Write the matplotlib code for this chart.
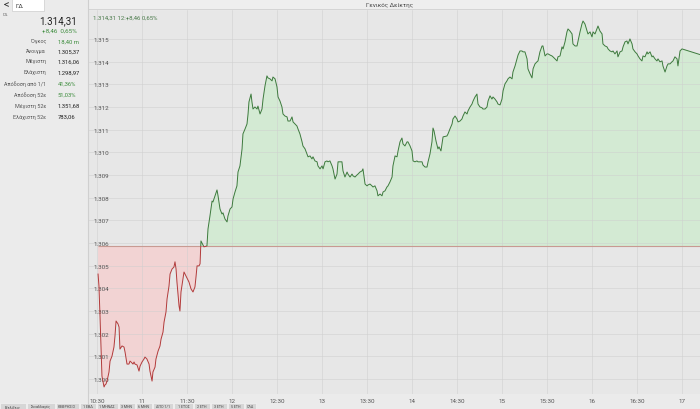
import matplotlib
matplotlib.use("Agg")
import matplotlib.pyplot as plt
import numpy as np
from matplotlib.patches import Rectangle
from matplotlib.ticker import FuncFormatter

plt.rcParams["font.family"] = ["Roboto", "DejaVu Sans"]

# minutes after 10:30 and index value
minutes = [
    0.7, 1.3, 2.0, 3.3, 4.7, 5.3, 6.0, 6.7, 8.0, 8.7, 10.0, 11.3, 12.0, 12.7, 14.0, 14.7,
    15.3, 16.7, 18.0, 18.7, 20.0, 21.3, 22.0, 22.7, 24.0, 24.7, 25.3, 26.7, 28.0, 28.7,
    30.0, 31.3, 32.0, 33.3, 34.7, 35.3, 36.7, 37.3, 38.7, 39.3, 40.7, 42.0, 42.7, 44.0,
    44.7, 46.0, 46.7, 48.0, 48.7, 50.0, 51.3, 52.0, 52.7, 53.3, 54.7, 55.3, 56.0, 57.3,
    58.0, 59.3, 61.3, 62.7, 64.0, 65.3, 66.0, 66.7, 68.0, 68.7, 69.3, 71.3, 73.3, 74.0,
    75.3, 76.7, 77.3, 78.7, 80.0, 80.7, 82.0, 83.3, 84.0, 85.3, 86.7, 87.3, 88.7, 90.0,
    90.7, 92.0, 93.3, 94.0, 95.3, 96.7, 97.3, 98.7, 100.0, 100.7, 101.3, 102.7, 103.3,
    104.0, 105.3, 106.7, 107.3, 108.7, 110.0, 110.7, 112.0, 113.3, 114.0, 115.3, 116.7,
    117.3, 118.7, 120.0, 120.7, 122.0, 123.3, 124.0, 125.3, 126.7, 127.3, 128.7, 130.0,
    130.7, 132.0, 133.3, 134.0, 135.3, 136.7, 137.3, 138.7, 140.0, 140.7, 142.0, 143.3,
    144.0, 145.3, 146.7, 147.3, 148.7, 150.0, 150.7, 152.0, 153.3, 154.0, 155.3, 156.7,
    157.3, 158.7, 160.0, 160.7, 162.0, 163.3, 164.0, 165.3, 166.7, 167.3, 168.7, 170.0,
    170.7, 172.0, 173.3, 174.0, 175.3, 176.7, 177.3, 178.7, 180.0, 180.7, 182.0, 183.3,
    184.0, 185.3, 186.7, 187.3, 188.7, 190.0, 190.7, 192.0, 193.3, 194.0, 195.3, 196.7,
    197.3, 198.7, 200.0, 200.7, 202.0, 203.3, 204.0, 205.3, 206.7, 207.3, 208.7, 210.0,
    210.7, 212.0, 213.3, 214.0, 215.3, 216.7, 217.3, 218.7, 220.0, 220.7, 222.0, 223.3,
    224.0, 224.7, 226.0, 227.3, 228.0, 229.3, 230.0, 230.7, 233.3, 234.0, 235.3, 236.7,
    237.3, 238.7, 240.0, 240.7, 242.0, 243.3, 244.0, 245.3, 246.7, 247.3, 248.7, 250.0,
    250.7, 252.0, 253.3, 254.0, 255.3, 256.7, 257.3, 258.7, 260.0, 260.7, 262.0, 263.3,
    264.0, 265.3, 266.7, 267.3, 268.7, 270.0, 270.7, 272.0, 273.3, 274.0, 275.3, 276.7,
    277.3, 278.7, 280.0, 280.7, 282.0, 283.3, 284.0, 285.3, 286.7, 287.3, 288.7, 290.0,
    290.7, 292.0, 293.3, 294.0, 295.3, 296.7, 297.3, 298.7, 300.0, 300.7, 302.0, 303.3,
    304.0, 305.3, 306.7, 307.3, 308.7, 310.0, 310.7, 312.0, 313.3, 314.0, 315.3, 316.7,
    317.3, 318.7, 320.0, 320.7, 322.0, 323.3, 324.0, 325.3, 326.7, 327.3, 328.7, 330.0,
    330.7, 332.0, 333.3, 334.0, 335.3, 336.7, 337.3, 338.7, 340.0, 340.7, 342.0, 343.3,
    344.0, 345.3, 346.7, 347.3, 348.7, 350.0, 350.7, 352.0, 353.3, 354.0, 355.3, 356.7,
    357.3, 358.7, 360.0, 360.7, 362.0, 363.3, 364.0, 365.3, 366.7, 367.3, 368.7, 370.0,
    370.7, 372.0, 373.3, 374.0, 375.3, 376.7, 377.3, 378.7, 380.0, 380.7, 382.0, 383.3,
    384.0, 385.3, 386.7, 387.3, 388.7, 390.0, 402.0,
]
values = [
    1304.63, 1304.10, 1302.78, 1300.13, 1299.65, 1299.74, 1299.78, 1299.91, 1300.31, 1300.79,
    1301.01, 1301.41, 1301.90, 1302.56, 1302.43, 1302.29, 1301.32, 1301.46, 1301.41, 1301.19,
    1300.66, 1300.66, 1300.79, 1300.75, 1300.66, 1300.75, 1300.66, 1300.62, 1300.35, 1300.57,
    1300.75, 1300.88, 1300.97, 1300.88, 1300.66, 1300.35, 1299.91, 1300.31, 1300.53, 1300.88,
    1301.23, 1301.46, 1301.76, 1302.07, 1302.51, 1302.96, 1303.53, 1304.10, 1304.63, 1304.85,
    1304.94, 1305.17, 1304.85, 1304.28, 1303.22, 1303.00, 1303.84, 1304.41, 1304.72, 1304.55,
    1304.28, 1303.97, 1303.84, 1304.06, 1304.50, 1304.99, 1304.99, 1305.08, 1306.09, 1305.83,
    1305.87, 1306.62, 1307.19, 1307.85, 1307.81, 1308.08, 1308.34, 1308.08, 1307.50, 1307.28,
    1307.33, 1307.06, 1306.93, 1307.19, 1307.50, 1307.59, 1307.94, 1308.25, 1308.52, 1309.13,
    1309.40, 1310.15, 1310.81, 1311.03, 1311.25, 1311.69, 1312.22, 1312.57, 1312.22, 1311.91,
    1312.00, 1311.91, 1312.04, 1311.69, 1311.91, 1312.35, 1312.93, 1313.37, 1313.28, 1313.24,
    1313.15, 1313.32, 1313.24, 1312.88, 1312.44, 1312.26, 1312.00, 1311.69, 1311.60, 1311.56,
    1311.38, 1311.38, 1311.56, 1311.34, 1311.25, 1311.16, 1311.03, 1310.81, 1310.46, 1310.28,
    1310.15, 1309.93, 1309.80, 1309.84, 1309.71, 1309.80, 1309.62, 1309.58, 1309.40, 1309.27,
    1309.40, 1309.27, 1309.58, 1309.62, 1309.58, 1309.62, 1309.40, 1309.27, 1308.82, 1309.04,
    1309.58, 1309.58, 1309.58, 1309.18, 1308.91, 1309.13, 1309.04, 1308.91, 1309.04, 1308.96,
    1308.91, 1309.00, 1309.04, 1309.13, 1309.18, 1309.27, 1308.60, 1308.52, 1308.56, 1308.60,
    1308.52, 1308.47, 1308.52, 1308.30, 1308.08, 1308.16, 1308.08, 1308.25, 1308.30, 1308.47,
    1308.52, 1308.69, 1308.91, 1309.40, 1309.84, 1309.80, 1310.06, 1310.46, 1310.63, 1310.37,
    1310.28, 1310.46, 1310.46, 1310.28, 1310.06, 1309.62, 1309.58, 1309.62, 1309.58, 1309.58,
    1309.58, 1309.44, 1309.35, 1309.35, 1309.58, 1309.93, 1310.46, 1311.07, 1310.94, 1310.50,
    1310.15, 1310.24, 1310.06, 1310.37, 1310.68, 1310.72, 1310.81, 1311.03, 1311.25, 1311.47,
    1311.60, 1311.47, 1311.34, 1311.38, 1311.47, 1311.60, 1311.78, 1311.69, 1311.82, 1312.00,
    1312.13, 1312.26, 1312.44, 1312.57, 1312.13, 1312.00, 1311.96, 1311.91, 1311.91, 1312.00,
    1312.26, 1312.49, 1312.35, 1312.44, 1312.35, 1312.22, 1312.13, 1312.09, 1312.35, 1312.71,
    1313.02, 1313.15, 1313.24, 1313.32, 1313.24, 1313.54, 1313.81, 1314.12, 1314.29, 1314.47,
    1314.47, 1314.43, 1314.43, 1314.12, 1313.68, 1313.46, 1313.28, 1313.68, 1313.90, 1313.99,
    1314.03, 1314.43, 1314.69, 1314.69, 1314.25, 1314.34, 1314.34, 1314.29, 1314.25, 1314.21,
    1314.12, 1314.03, 1314.21, 1314.25, 1314.65, 1314.56, 1314.87, 1315.31, 1315.44, 1315.35,
    1315.22, 1314.78, 1314.69, 1314.69, 1314.91, 1315.31, 1315.66, 1315.79, 1315.66, 1315.35,
    1315.22, 1315.31, 1315.09, 1315.31, 1315.22, 1315.44, 1315.57, 1315.35, 1315.22, 1314.78,
    1314.69, 1314.65, 1314.56, 1314.47, 1314.43, 1314.47, 1314.34, 1314.47, 1314.21, 1314.43,
    1314.47, 1314.65, 1314.87, 1314.91, 1314.78, 1315.00, 1314.78, 1314.56, 1314.43, 1314.34,
    1314.25, 1314.12, 1314.03, 1314.25, 1314.21, 1314.43, 1314.34, 1314.43, 1314.21, 1314.25,
    1314.12, 1314.03, 1314.12, 1313.99, 1314.03, 1313.81, 1313.54, 1313.81, 1313.90, 1313.90,
    1313.99, 1314.03, 1314.21, 1314.12, 1313.81, 1314.47, 1314.56, 1314.31,
]
prev_close = 1305.85

tick_minutes = [0, 30, 60, 90, 120, 150, 180, 210, 240, 270, 300, 330, 360, 390]
tick_labels = ["10:30", "11", "11:30", "12", "12:30", "13", "13:30", "14",
               "14:30", "15", "15:30", "16", "16:30", "17"]
y_ticks = list(range(1300, 1316))

info_labels = ["Όγκος", "Άνοιγμα", "Μέγιστη", "Ελάχιστη", "Απόδοση από 1/1",
               "Απόδοση 52ε", "Μέγιστη 52ε", "Ελάχιστη 52ε"]
info_values = ["18,40 m", "1.305,37", "1.316,06", "1.298,97", "41,36%",
               "51,03%", "1.351,68", "783,06"]
info_green = [True, False, False, False, True, True, False, False]

tabs = ["Εξελίξεις", "Συναλλαγές", "ΗΜΕΡΗΣΙΟ", "1 ΕΒΔ", "1 ΜΗΝΑΣ", "3 ΜΗΝ", "6 ΜΗΝ",
        "ΑΠΟ 1/1", "1 ΕΤΟΣ", "2 ΕΤΗ", "3 ΕΤΗ", "5 ΕΤΗ", "ΟΛΑ"]

green_line = "#3d7a3d"
red_line = "#b23a3a"
grey_txt = "#555555"

fig = plt.figure(figsize=(7, 4.1), dpi=100, facecolor="#ebebeb")
W, H = 700, 410

ax = fig.add_axes([88 / W, 15 / H, 612 / W, 385 / H])
ax.set_facecolor("#e7e7e7")
x = np.array(minutes)
y = np.array(values)

ax.fill_between(x, y, prev_close, where=y >= prev_close, interpolate=True,
                color="#d3ead3", lw=0, zorder=1)
ax.fill_between(x, y, prev_close, where=y <= prev_close, interpolate=True,
                color="#f2d3d3", lw=0, zorder=1)
ax.hlines(prev_close, x[0], 402, color="#c89a92", lw=0.8, zorder=3)

up_clip = Rectangle((-50, prev_close), 600, 50, transform=ax.transData)
dn_clip = Rectangle((-50, prev_close - 50), 600, 50, transform=ax.transData)
lg, = ax.plot(x, y, color=green_line, lw=0.7, zorder=4)
lg.set_clip_path(up_clip)
lr, = ax.plot(x, y, color=red_line, lw=0.7, zorder=4)
lr.set_clip_path(dn_clip)

ax.set_xlim(-6, 402)
ax.set_ylim(1299.34, 1316.32)
ax.set_xticks(tick_minutes)
ax.set_xticklabels(tick_labels)
ax.set_yticks(y_ticks)
ax.yaxis.set_major_formatter(FuncFormatter(lambda v, p: f"{v / 1000:.3f}"))
ax.set_axisbelow(False)
ax.grid(True, color="#cfcfcf", lw=0.6, alpha=0.6)
ax.tick_params(axis="x", length=0, pad=3, labelsize=4.5, colors=grey_txt)
ax.tick_params(axis="y", length=0, pad=-4, labelsize=4.5, colors=grey_txt)
for lbl in ax.get_yticklabels():
    lbl.set_horizontalalignment("left")
for s in ax.spines.values():
    s.set_visible(False)
ax.text(0.008, 0.985, "1.314,31 12:+8,46 0,65%", transform=ax.transAxes,
        fontsize=4.3, color="#4a7a4a", va="top", ha="left")

# header bar and left panel
fig.patches.append(Rectangle((88 / W, 1 - 10 / H), 612 / W, 10 / H,
                             transform=fig.transFigure, color="#eeeeee", zorder=0))
fig.lines.append(plt.Line2D([88 / W, 1], [1 - 10 / H] * 2, transform=fig.transFigure,
                            color="#d0d0d0", lw=0.6))
fig.lines.append(plt.Line2D([88 / W] * 2, [0, 1], transform=fig.transFigure,
                            color="#cfcfcf", lw=0.8))
fig.text(390 / W, 1 - 5 / H, "Γενικός Δείκτης", fontsize=4.5, color="#444444",
         ha="center", va="center")

fig.patches.append(Rectangle((12 / W, 1 - 12 / H), 32 / W, 12 / H,
                             transform=fig.transFigure, facecolor="white",
                             edgecolor="#cccccc", lw=0.5))
fig.text(15 / W, 1 - 6 / H, "ΓΔ", fontsize=4.5, color="#333333", va="center")
fig.text(4 / W, 1 - 5 / H, "<", fontsize=8, color="#333333", va="center")
fig.text(3 / W, 1 - 15 / H, "ΓΔ", fontsize=3.2, color="#666666", va="center")

fig.text(77 / W, 1 - 21 / H, "1.314,31", fontsize=7, color="#222222",
         ha="right", va="center")
fig.text(77 / W, 1 - 31 / H, "+8,46  0,65%", fontsize=4.5, color="#3c8c3c",
         ha="right", va="center")
row_y = [42, 52, 62, 73, 84, 95.5, 106.5, 117.3]
for lab, val, gr, ry in zip(info_labels, info_values, info_green, row_y):
    fig.text(46 / W, 1 - ry / H, lab, fontsize=3.9, color="#555555",
             ha="right", va="center")
    fig.text(58 / W, 1 - ry / H, val, fontsize=4.2,
             color="#3c8c3c" if gr else "#222222", ha="left", va="center")

# bottom tab strip
tx = 0
for t in tabs:
    w = 4 + 2.4 * len(t)
    fig.patches.append(Rectangle((tx / W, 0), w / W, 6 / H, transform=fig.transFigure,
                                 facecolor="#d6d6d6", edgecolor="#f4f4f4", lw=0.5))
    fig.text((tx + w / 2) / W, 3 / H, t, fontsize=2.6, color="#444444",
             ha="center", va="center")
    tx += w + 1

fig.savefig("out.png", dpi=100, facecolor=fig.get_facecolor())
